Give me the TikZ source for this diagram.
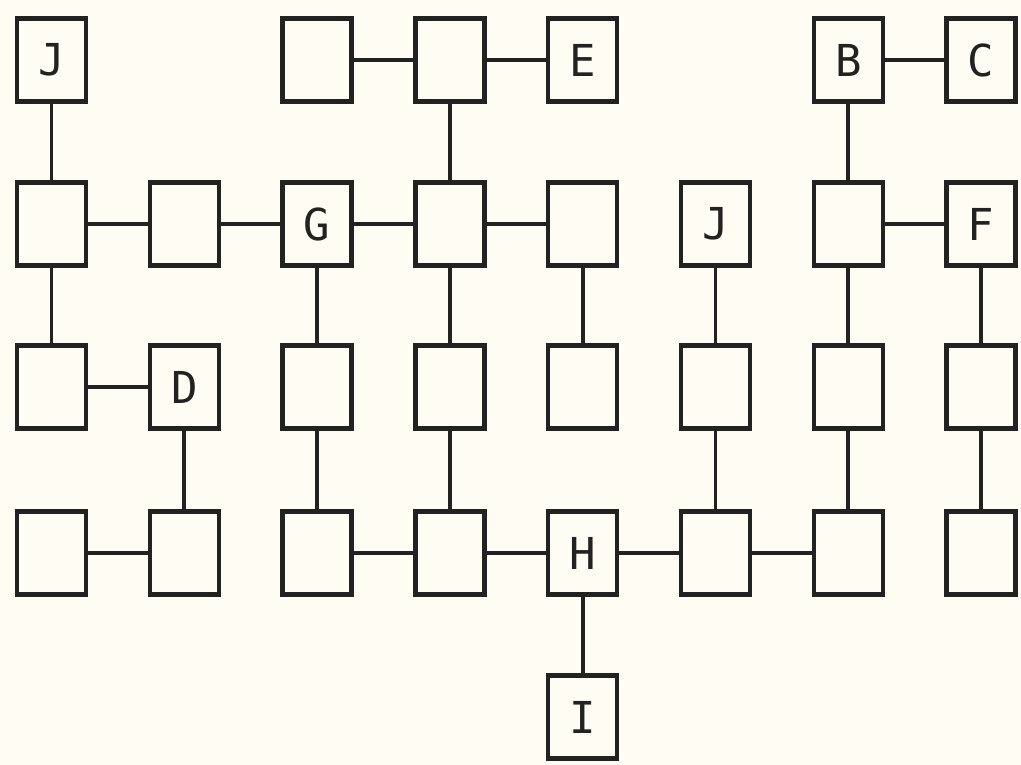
\documentclass[tikz,border=0pt]{standalone}
\usepackage{fontspec}
\newfontfamily\dotfont{DejaVu Sans Mono}
\definecolor{paper}{HTML}{FFFDF3}
\definecolor{ink}{HTML}{222222}
\begin{document}
\begin{tikzpicture}[x=1pt,y=-1pt,
  cell/.style={draw=ink,line width=4.5pt,minimum width=69pt,minimum height=83pt,inner sep=0pt,
     font=\dotfont\fontsize{44}{44}\selectfont,text=ink},
  link/.style={draw=ink,line width=3.8pt}]
\fill[paper] (0,0) rectangle (1021,765);
\useasboundingbox (0,0) rectangle (1021,765);
% rows y: 60, 224, 387, 553, 717 ; cols x: 51.5 + 132.8k
\foreach \c/\x in {1/51.5,2/184.3,3/317.1,4/449.9,5/582.7,6/715.5,7/848.3,8/981.1}{
  \foreach \r/\y in {1/60,2/224,3/387,4/553,5/717}{
    \coordinate (p\r\c) at (\x,\y);
  }
}
% row 1
\node[cell] (n11) at (p11) {J};
\node[cell] (n13) at (p13) {};
\node[cell] (n14) at (p14) {};
\node[cell] (n15) at (p15) {E};
\node[cell] (n17) at (p17) {B};
\node[cell] (n18) at (p18) {C};
% row 2
\node[cell] (n21) at (p21) {};
\node[cell] (n22) at (p22) {};
\node[cell] (n23) at (p23) {G};
\node[cell] (n24) at (p24) {};
\node[cell] (n25) at (p25) {};
\node[cell] (n26) at (p26) {J};
\node[cell] (n27) at (p27) {};
\node[cell] (n28) at (p28) {F};
% row 3
\node[cell] (n31) at (p31) {};
\node[cell] (n32) at (p32) {D};
\node[cell] (n33) at (p33) {};
\node[cell] (n34) at (p34) {};
\node[cell] (n35) at (p35) {};
\node[cell] (n36) at (p36) {};
\node[cell] (n37) at (p37) {};
\node[cell] (n38) at (p38) {};
% row 4
\node[cell] (n41) at (p41) {};
\node[cell] (n42) at (p42) {};
\node[cell] (n43) at (p43) {};
\node[cell] (n44) at (p44) {};
\node[cell] (n45) at (p45) {H};
\node[cell] (n46) at (p46) {};
\node[cell] (n47) at (p47) {};
\node[cell] (n48) at (p48) {};
% row 5
\node[cell] (n55) at (p55) {I};
% horizontal links
\foreach \a/\b in {13/14,14/15,17/18,
                   21/22,22/23,23/24,24/25,27/28,
                   31/32,
                   41/42,43/44,44/45,45/46,46/47}{
  \draw[link] (n\a) -- (n\b);
}
% vertical links
\foreach \a/\b in {11/21,14/24,17/27,
                   21/31,23/33,24/34,25/35,26/36,27/37,28/38,
                   32/42,33/43,34/44,36/46,37/47,38/48,
                   45/55}{
  \draw[link] (n\a) -- (n\b);
}
\end{tikzpicture}
\end{document}
